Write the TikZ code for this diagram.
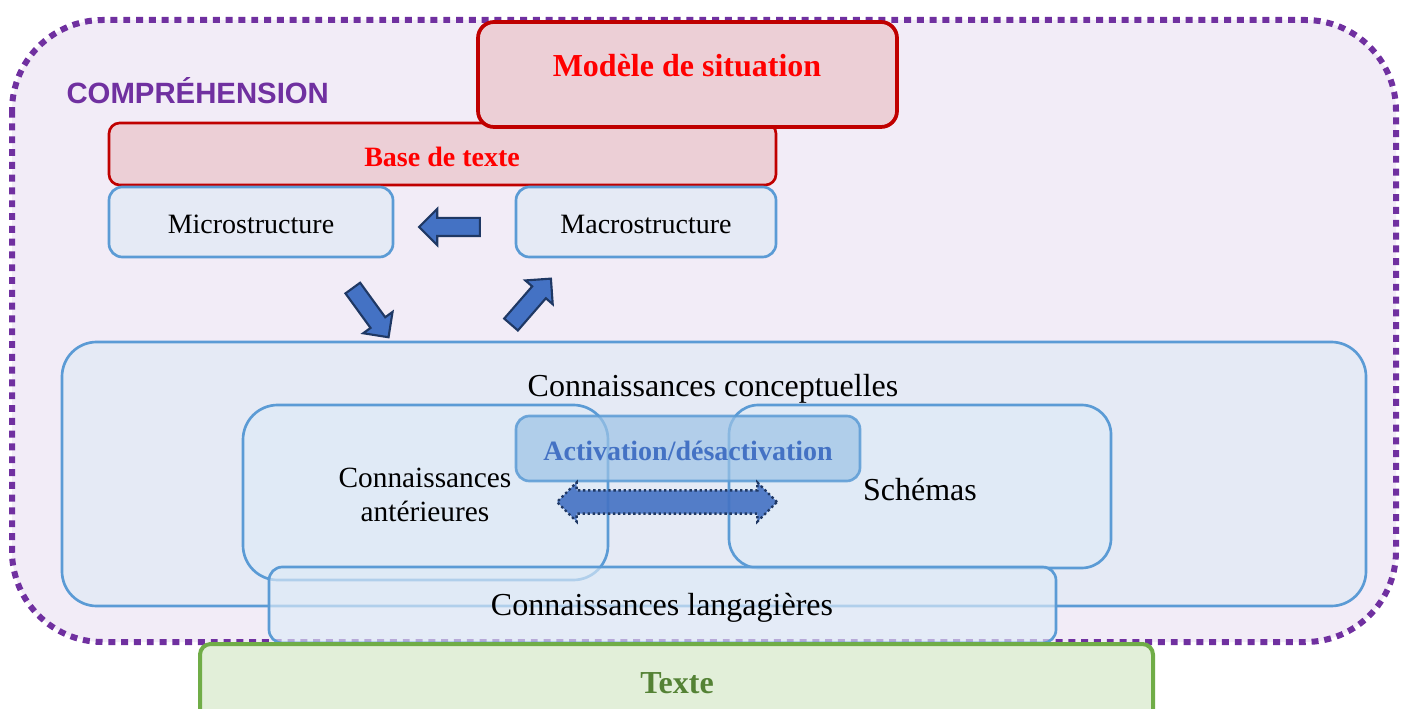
\documentclass[tikz,border=0pt]{standalone}
\usepackage{fontspec}
\setmainfont{Liberation Serif}
\newfontfamily\sansgras{Liberation Sans}
\usetikzlibrary{shapes.arrows, fit}

\definecolor{violetC}{HTML}{7030A0}
\definecolor{lavande}{HTML}{F2ECF7}
\definecolor{rougeB}{HTML}{C00000}
\definecolor{rougeT}{HTML}{FF0000}
\definecolor{roseF}{HTML}{ECCFD6}
\definecolor{bleuB}{HTML}{5B9BD5}
\definecolor{bleuF}{HTML}{E5EAF5}
\definecolor{bleuC}{HTML}{DEEBF7}
\definecolor{bleuA}{HTML}{9DC3E6}
\definecolor{bleuT}{HTML}{4472C4}
\definecolor{marine}{HTML}{1F3864}
\definecolor{vertB}{HTML}{70AD47}
\definecolor{vertF}{HTML}{E2EFD9}
\definecolor{vertT}{HTML}{548235}

\tikzset{
  boite/.style={draw=bleuB, line width=1pt, fill=bleuF, rounded corners=#1, inner sep=0pt},
  boite/.default=5pt,
  voile/.style={fill=bleuC, fill opacity=0.65},
  rose/.style={draw=rougeB, fill=roseF, rounded corners=#1, inner sep=0pt},
  fleche/.style={single arrow, draw=marine, line width=0.8pt, fill=bleuT,
    minimum height=22.8pt, single arrow head extend=3.4pt, inner xsep=0pt, inner ysep=3pt},
  petit/.style={font=\fontsize{10.5}{12}\selectfont},
  moyen/.style={font=\fontsize{12}{14}\selectfont},
}

\begin{document}
\begin{tikzpicture}[x=0.375pt, y=-0.375pt]
\useasboundingbox (0,0) rectangle (1406,709);
\clip (0,0) rectangle (1406,709);

\draw[violetC, fill=lavande, line width=2.25pt, dash pattern=on 2.6pt off 2.2pt, rounded corners=34pt] (12,20) rectangle (1396,642);
\node[anchor=west, inner sep=0pt, text=violetC, font=\sansgras\bfseries\fontsize{11}{13}\selectfont] (compr) at (66,91) {COMPRÉHENSION};

% base de texte, modele de situation
\node[rose=4pt, line width=1pt, fit={(109,123) (776,185)}] (base) {};
\node[text=rougeT, font=\bfseries\fontsize{10.5}{12}\selectfont] (basetxt) at (442,157) {Base de texte};
\node[rose=6pt, line width=1.4pt, fit={(478,22) (897,127)}] (modele) {};
\node[text=rougeT, font=\bfseries\fontsize{12}{14}\selectfont] (modeletxt) at (687,66) {Modèle de situation};

\node[boite, fit={(109,187) (393,257)}] (micro) {};
\node[petit] (microtxt) at ([yshift=-0.8pt]micro.center) {Microstructure};
\node[boite, fit={(516,187) (776,257)}] (macro) {};
\node[petit] (macrotxt) at ([yshift=-0.8pt]macro.center) {Macrostructure};

\node[fleche, rotate=180] (versmicro) at (454,227) {};
\node[fleche, rotate=-54] (descente) at (368,309) {};
\node[fleche, rotate=49] (montee) at (528,305) {};

% connaissances
\node[boite=13pt, fit={(62,342) (1366,606)}] (concept) {};
\node[moyen] (concepttxt) at (713,389) {Connaissances conceptuelles};
\node[boite=13pt, voile, fit={(243,405) (608,580)}] (anter) {};
\node[align=center, font=\fontsize{11}{12.5}\selectfont] (antertxt) at (425,495) {Connaissances\\antérieures};
\node[boite=11pt, voile, fit={(729,405) (1111,568)}] (schemas) {};
\node[moyen] (schemastxt) at (920,490) {Schémas};
\node[boite, draw opacity=0.85, fill=bleuA, fill opacity=0.7, fit={(516,416) (860,481)}] (activ) {};
\node[text=bleuT, font=\bfseries\fontsize{10.5}{12}\selectfont] (activtxt) at ([yshift=-0.8pt]activ.center) {Activation/désactivation};
\node[double arrow, draw=marine, densely dotted, line width=0.9pt, fill=bleuT, fill opacity=0.9,
  minimum height=82.5pt, double arrow head extend=3pt, inner xsep=0pt, inner ysep=3.9pt] (echange) at (667,502) {};
\node[boite, voile, fit={(269,567) (1056,643)}] (langag) {};
\node[moyen] (langagtxt) at (662,608) {Connaissances langagières};

\node[draw=vertB, fill=vertF, line width=1.5pt, rounded corners=4pt, inner sep=0pt, fit={(200,644) (1153,724)}] (texte) {};
\node[text=vertT, font=\bfseries\fontsize{12}{14}\selectfont] (textetxt) at (677,683) {Texte};
\end{tikzpicture}
\end{document}
